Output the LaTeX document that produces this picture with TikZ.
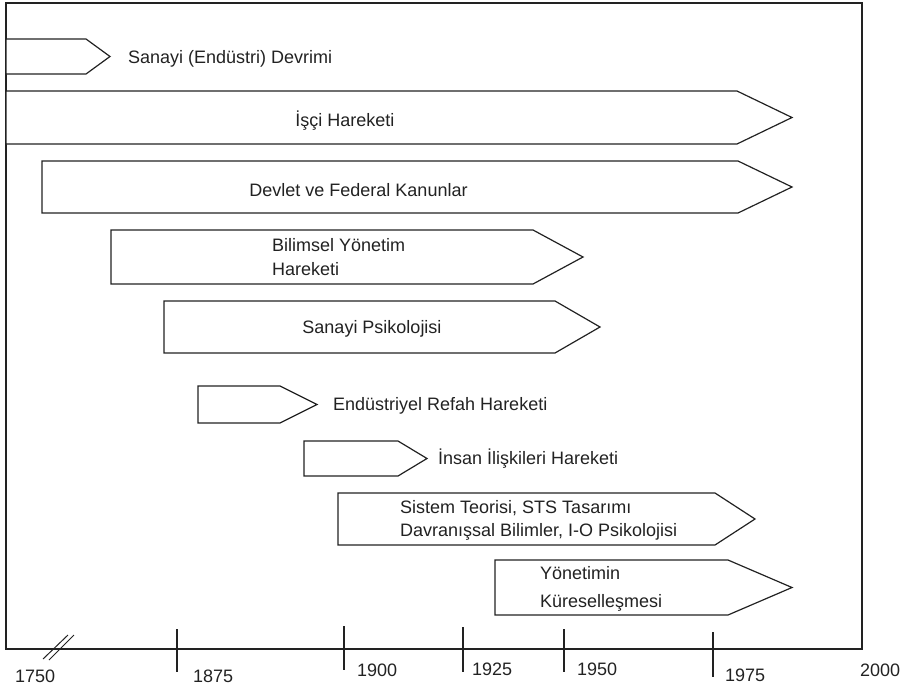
\documentclass[tikz,border=0pt]{standalone}
\usepackage{fontspec}
\setmainfont{Liberation Sans}
\definecolor{ink}{HTML}{222222}
% one phase of the timeline: left, top, bottom, shoulder, tip
\newcommand\phasearrow[5]{%
  \draw[phase] (#1,#2) -- (#4,#2) -- (#5,{(#2+#3)/2}) -- (#4,#3) -- (#1,#3) -- cycle;}
\begin{document}
\begin{tikzpicture}[x=1pt,y=-1pt,line join=miter,
  frame/.style={draw=ink,line width=1.4pt},
  phase/.style={draw=ink,line width=1.2pt,fill=white},
  tick/.style={draw=ink,line width=1.2pt},
  lbl/.style={inner sep=0pt,text=ink,font=\fontsize{18}{22}\selectfont},
  lw/.style={lbl,anchor=base west},
  lc/.style={lbl,anchor=base}]
\useasboundingbox (0,0) rectangle (904,688);

% outer frame, its bottom edge is the time axis
\coordinate (nw) at (6,3);
\coordinate (se) at (862,649);
\draw[frame] (nw) rectangle (se);

% phases
\phasearrow{6}{39}{74}{86}{110}
\phasearrow{6}{91}{144}{737}{792}
\phasearrow{42}{161}{213}{738}{792}
\phasearrow{111}{230}{284}{533}{583}
\phasearrow{164}{301}{353}{555}{600}
\phasearrow{198}{386}{423}{280}{317}
\phasearrow{304}{441}{476}{398}{427}
\phasearrow{338}{493}{545}{715}{755}
\phasearrow{495}{560}{615}{728}{792}

% phase labels
\node[lw] (sanayi) at (128,63.5) {Sanayi (Endüstri) Devrimi};
\node[lc] (isci) at (345,126) {İşçi Hareketi};
\node[lc] (devlet) at (358.5,196.5) {Devlet ve Federal Kanunlar};
\node[lw] (bilimsel) at (272,251.5) {Bilimsel Yönetim};
\node[lw] (bilimselb) at (272,275.5) {Hareketi};
\node[lc] (psiko) at (372,333.5) {Sanayi Psikolojisi};
\node[lw] (refah) at (333,410.5) {Endüstriyel Refah Hareketi};
\node[lw] (insan) at (438,464.5) {İnsan İlişkileri Hareketi};
\node[lw] (sistem) at (400,513.5) {Sistem Teorisi, STS Tasarımı};
\node[lw] (sistemb) at (400,536.5) {Davranışsal Bilimler, I-O Psikolojisi};
\node[lw] (yonetim) at (540,579.5) {Yönetimin};
\node[lw] (yonetimb) at (540,607) {Küreselleşmesi};

% axis break
\draw[tick,line width=1pt] (43,659) -- (68,635);
\draw[tick,line width=1pt] (49,660) -- (74,635);

% ticks
\draw[tick] (177,629) -- (177,672);
\draw[tick] (344,626) -- (344,670);
\draw[tick] (463,627) -- (463,672);
\draw[tick] (564,629) -- (564,672);
\draw[tick] (713,632) -- (713,677);

% years
\node[lw] (y1750) at (15,682.5) {1750};
\node[lw] (y1875) at (193,682.5) {1875};
\node[lw] (y1900) at (357,676.5) {1900};
\node[lw] (y1925) at (472,675) {1925};
\node[lw] (y1950) at (577,675.5) {1950};
\node[lw] (y1975) at (725,681) {1975};
\node[lw] (y2000) at (860,676.5) {2000};
\end{tikzpicture}
\end{document}
